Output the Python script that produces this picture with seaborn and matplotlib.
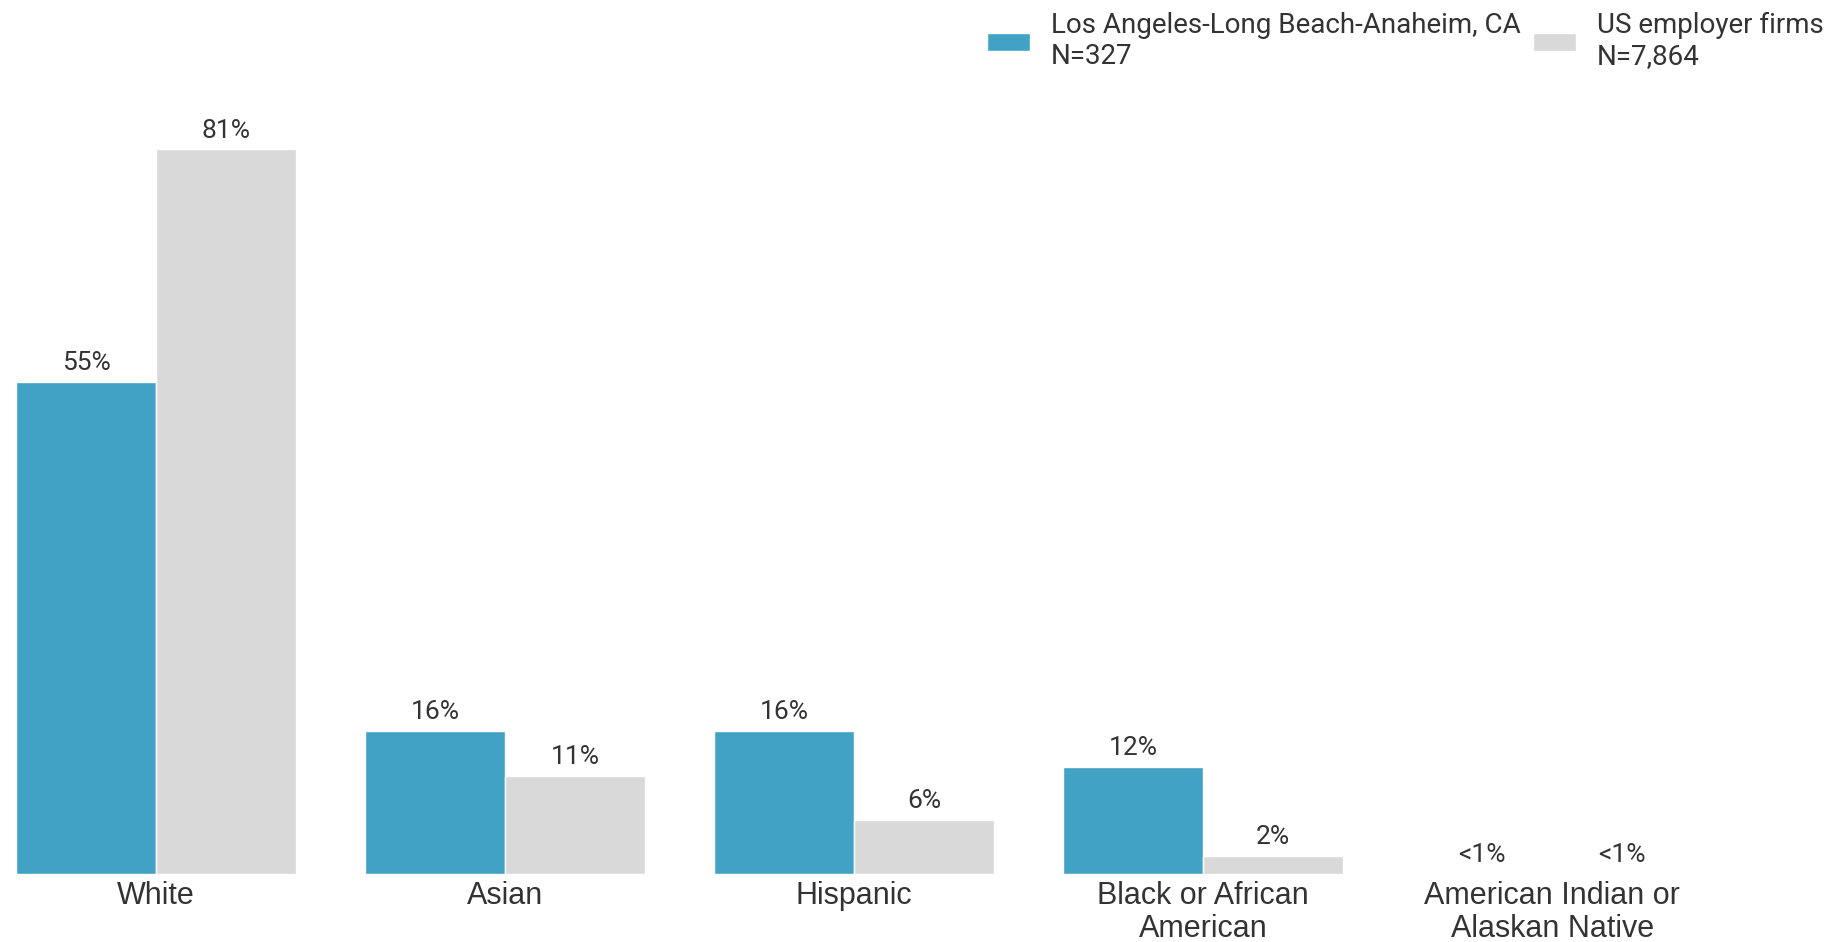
import matplotlib
matplotlib.use("Agg")
import matplotlib.pyplot as plt
import seaborn as sns
import pandas as pd

categories = ["White", "Asian", "Hispanic", "Black or African\nAmerican", "American Indian or\nAlaskan Native"]
series_names = ["Los Angeles-Long Beach-Anaheim, CA\nN=327", "US employer firms\nN=7,864"]
la_values = [55, 16, 16, 12, 0]
us_values = [81, 11, 6, 2, 0]
la_labels = ["55%", "16%", "16%", "12%", "<1%"]
us_labels = ["81%", "11%", "6%", "2%", "<1%"]
colors = ["#42A2C6", "#D9D9D9"]

df = pd.DataFrame({
    "category": categories * 2,
    "series": [series_names[0]] * len(categories) + [series_names[1]] * len(categories),
    "value": la_values + us_values,
})

sns.set_theme(style="white")
plt.rcParams["font.family"] = ["Roboto", "DejaVu Sans"]

fig = plt.figure(figsize=(18.32, 9.42), dpi=100)
ax = fig.add_axes([0, 68 / 942, 1, (942 - 68 - 100) / 942])

sns.barplot(data=df, x="category", y="value", hue="series", order=categories,
            hue_order=series_names, palette=colors, width=0.8, ax=ax,
            edgecolor="white", linewidth=1, saturation=1, legend=True)

for cont, labs in zip(ax.containers, [la_labels, us_labels]):
    ax.bar_label(cont, labels=labs, padding=5, fontsize=19, color="#333333",
                 family=["Roboto", "DejaVu Sans"])

ax.set_xlim(-0.447, 4.802)
ax.set_ylim(0, 774 / 8.945)
ax.set_xlabel("")
ax.set_ylabel("")
ax.set_yticks([])
ax.tick_params(axis="x", length=0, pad=5)
for lab in ax.get_xticklabels():
    lab.set_fontsize(22)
    lab.set_color("#333333")
    lab.set_family(["Liberation Sans", "DejaVu Sans"])
    lab.set_linespacing(1.15)
    lab.set_verticalalignment("top")
for s in ax.spines.values():
    s.set_visible(False)

h, l = ax.get_legend_handles_labels()
ax.get_legend().remove()
leg = fig.legend(h, l, loc="center left", bbox_to_anchor=(987 / 1832, 1 - 41 / 942),
                 ncol=2, frameon=False, fontsize=20, handlelength=1.55, handleheight=0.6,
                 handletextpad=0.75, columnspacing=0.45, labelcolor="#333333",
                 borderpad=0, borderaxespad=0)
for t in leg.get_texts():
    t.set_linespacing(1.15)

fig.savefig("out.png", dpi=100, facecolor="white")
